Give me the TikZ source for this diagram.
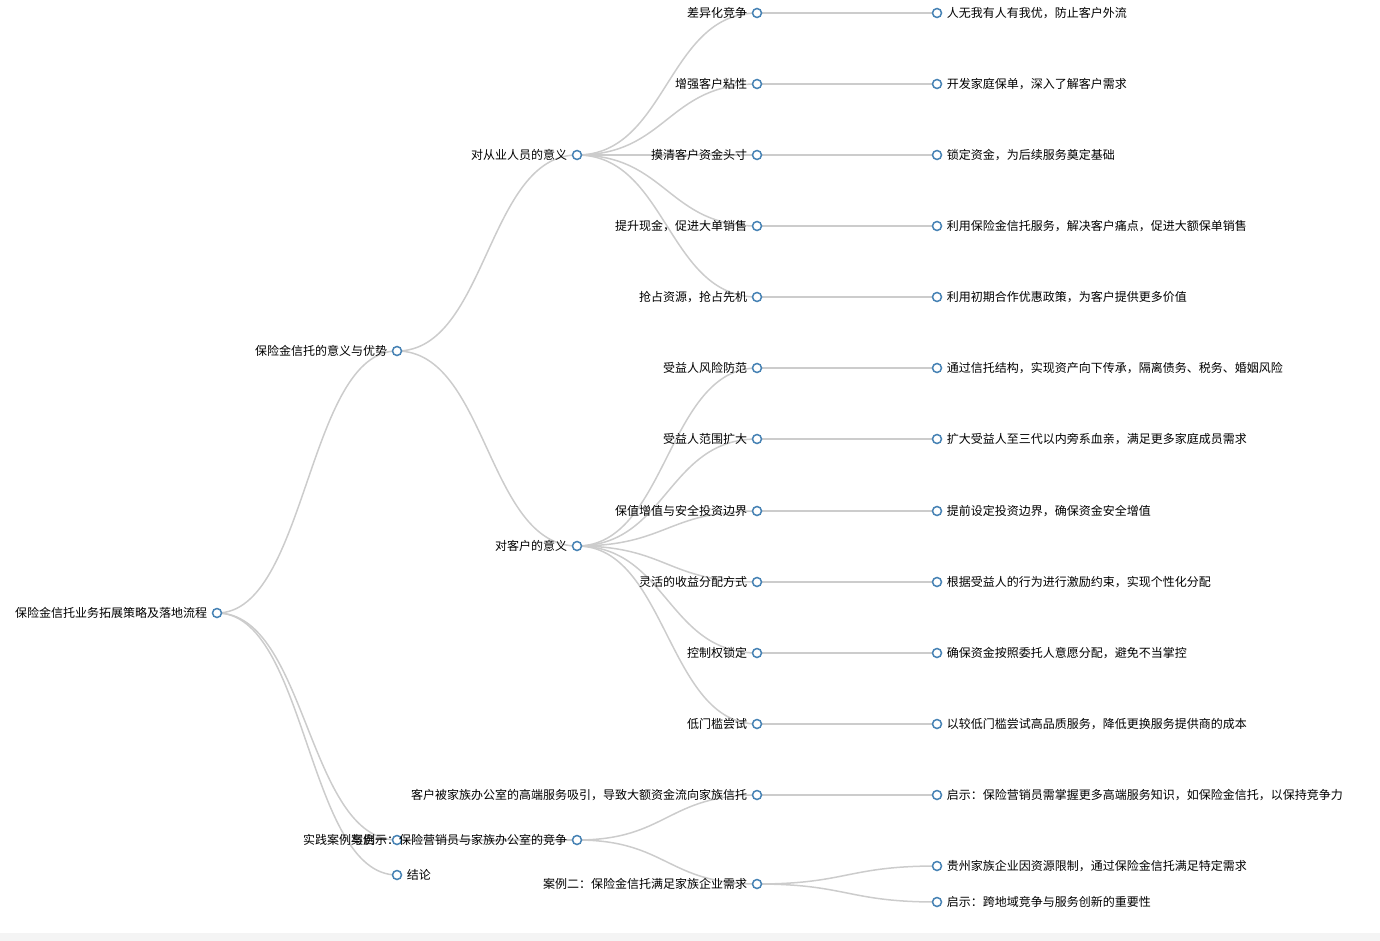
\documentclass[tikz,border=0pt]{standalone}
\usepackage{fontspec}
\setmainfont{Noto Sans CJK SC}
\usetikzlibrary{positioning,backgrounds}
\definecolor{steel}{RGB}{70,130,180}
\definecolor{wire}{RGB}{204,204,204}
\definecolor{strip}{RGB}{244,244,244}

\begin{document}
\begin{tikzpicture}[x=1pt,y=-1pt,node distance=180pt,on grid,label distance=4.5pt]
       \tikzstyle{dot}=[circle,draw=steel,line width=1.5pt,fill=white,minimum size=9pt,inner sep=0pt]
       \tikzstyle{txt}=[font=\fontsize{12}{14}\selectfont,inner sep=0pt,text=black]
       \tikzstyle{link}=[draw=wire,line width=1.5pt,
              to path={(\tikztostart) .. controls +(90,0) and +(-90,0) .. (\tikztotarget)}]

       \useasboundingbox (0,0) rectangle (1380,941);
       \fill[strip] (0,933) rectangle (1380,941);

       \node[dot,label={[txt]left:保险金信托业务拓展策略及落地流程}] (R) at (217,613) {};
       \node[dot,label={[txt]left:保险金信托的意义与优势}] (M) at (397,351) {};
       \node[dot,label={[txt]left:实践案例与启示}] (P) at (397,840) {};
       \node[dot,label={[txt]right:结论}] (E) at (397,875) {};
       \node[dot,label={[txt]left:对从业人员的意义}] (Mp) at (577,155) {};
       \node[dot,label={[txt]left:对客户的意义}] (Mc) at (577,546) {};
       \node[dot,label={[txt]left:案例一：保险营销员与家族办公室的竞争}] (C1) [right of=P] {};

       \node[dot,label={[txt]left:差异化竞争}] (p1) at (757,13) {};
       \node[dot,label={[txt]left:增强客户粘性}] (p2) at (757,84) {};
       \node[dot,label={[txt]left:摸清客户资金头寸}] (p3) at (757,155) {};
       \node[dot,label={[txt]left:提升现金，促进大单销售}] (p4) at (757,226) {};
       \node[dot,label={[txt]left:抢占资源，抢占先机}] (p5) at (757,297) {};
       \node[dot,label={[txt]left:受益人风险防范}] (c1) at (757,368) {};
       \node[dot,label={[txt]left:受益人范围扩大}] (c2) at (757,439) {};
       \node[dot,label={[txt]left:保值增值与安全投资边界}] (c3) at (757,511) {};
       \node[dot,label={[txt]left:灵活的收益分配方式}] (c4) at (757,582) {};
       \node[dot,label={[txt]left:控制权锁定}] (c5) at (757,653) {};
       \node[dot,label={[txt]left:低门槛尝试}] (c6) at (757,724) {};
       \node[dot,label={[txt]left:客户被家族办公室的高端服务吸引，导致大额资金流向家族信托}] (k1) at (757,795) {};
       \node[dot,label={[txt]left:案例二：保险金信托满足家族企业需求}] (k2) at (757,884) {};

       \node[dot,label={[txt]right:人无我有人有我优，防止客户外流}] (pa1) [right of=p1] {};
       \node[dot,label={[txt]right:开发家庭保单，深入了解客户需求}] (pa2) [right of=p2] {};
       \node[dot,label={[txt]right:锁定资金，为后续服务奠定基础}] (pa3) [right of=p3] {};
       \node[dot,label={[txt]right:利用保险金信托服务，解决客户痛点，促进大额保单销售}] (pa4) [right of=p4] {};
       \node[dot,label={[txt]right:利用初期合作优惠政策，为客户提供更多价值}] (pa5) [right of=p5] {};
       \node[dot,label={[txt]right:通过信托结构，实现资产向下传承，隔离债务、税务、婚姻风险}] (ca1) [right of=c1] {};
       \node[dot,label={[txt]right:扩大受益人至三代以内旁系血亲，满足更多家庭成员需求}] (ca2) [right of=c2] {};
       \node[dot,label={[txt]right:提前设定投资边界，确保资金安全增值}] (ca3) [right of=c3] {};
       \node[dot,label={[txt]right:根据受益人的行为进行激励约束，实现个性化分配}] (ca4) [right of=c4] {};
       \node[dot,label={[txt]right:确保资金按照委托人意愿分配，避免不当掌控}] (ca5) [right of=c5] {};
       \node[dot,label={[txt]right:以较低门槛尝试高品质服务，降低更换服务提供商的成本}] (ca6) [right of=c6] {};
       \node[dot,label={[txt]right:启示：保险营销员需掌握更多高端服务知识，如保险金信托，以保持竞争力}] (ka1) [right of=k1] {};
       \node[dot,label={[txt]right:贵州家族企业因资源限制，通过保险金信托满足特定需求}] (kb1) at (937,866) {};
       \node[dot,label={[txt]right:启示：跨地域竞争与服务创新的重要性}] (kb2) at (937,902) {};

       \begin{pgfonlayer}{background}
       \path[link]
       (R.center) edge (M.center) edge (P.center) edge (E.center)
       (M.center) edge (Mp.center) edge (Mc.center)
       (P.center) edge (C1.center)
       (Mp.center) edge (p1.center) edge (p2.center) edge (p3.center) edge (p4.center) edge (p5.center)
       (Mc.center) edge (c1.center) edge (c2.center) edge (c3.center) edge (c4.center) edge (c5.center) edge (c6.center)
       (C1.center) edge (k1.center) edge (k2.center)
       (p1.center) edge (pa1.center) (p2.center) edge (pa2.center) (p3.center) edge (pa3.center)
       (p4.center) edge (pa4.center) (p5.center) edge (pa5.center)
       (c1.center) edge (ca1.center) (c2.center) edge (ca2.center) (c3.center) edge (ca3.center)
       (c4.center) edge (ca4.center) (c5.center) edge (ca5.center) (c6.center) edge (ca6.center)
       (k1.center) edge (ka1.center)
       (k2.center) edge (kb1.center) edge (kb2.center);
       \end{pgfonlayer}
     \end{tikzpicture}
\end{document}
